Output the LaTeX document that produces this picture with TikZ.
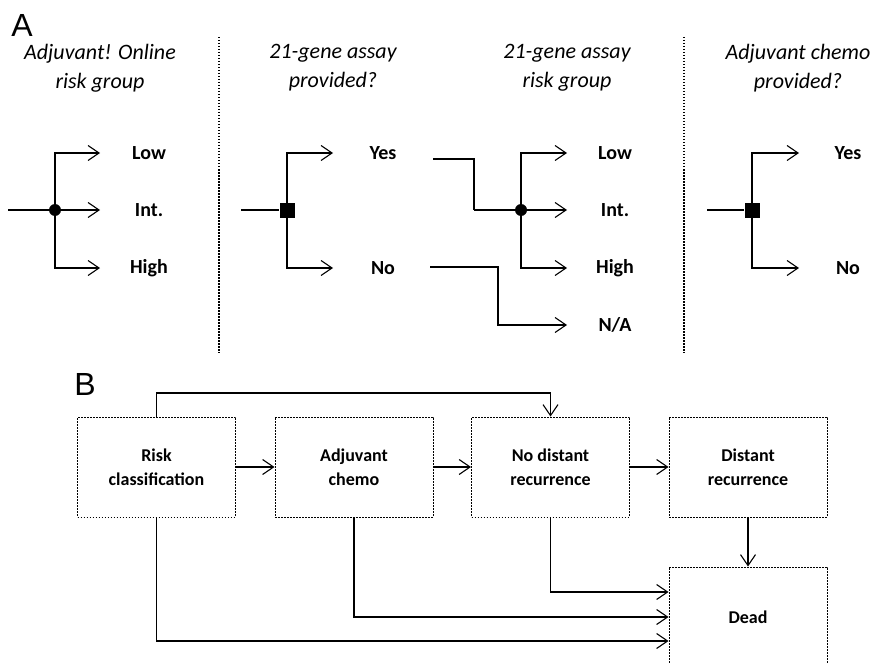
\documentclass[tikz,border=0pt]{standalone}
\usepackage{fontspec}
\setmainfont{Carlito}
\newfontfamily\panelfont{Liberation Sans}
\usetikzlibrary{arrows.meta,positioning}

\tikzset{
  lbl/.style={font=\fontsize{20}{24}\selectfont\bfseries},
  head/.style={font=\fontsize{22}{29}\selectfont\itshape, align=center},
  state/.style={draw, dash pattern=on 1.6pt off 1.4pt, line width=0.9pt,
    minimum width=158pt, minimum height=100pt, inner sep=0pt, align=center,
    font=\fontsize{18}{24}\selectfont\bfseries},
  arr/.style={-{Straight Barb[length=11pt,width=15pt]}, line width=1.1pt},
  wire/.style={line width=1.4pt},
  sep/.style={dash pattern=on 1.5pt off 1.5pt, line width=1.1pt},
  chance/.style={circle, fill, inner sep=0pt, minimum size=12pt},
  choice/.style={rectangle, fill, inner sep=0pt, minimum size=15pt},
  panel/.style={font=\panelfont\fontsize{32}{32}\selectfont}
}

\begin{document}
\begin{tikzpicture}[x=1pt,y=-1pt]
  \useasboundingbox (0,0) rectangle (872,663);

  % ---- panel A
  \node[panel] (pA) at (22,25) {A};

  \node[head] (hd1) at (100,68) {Adjuvant! Online\\risk group};
  \node[head] (hd2) at (333,68) {21-gene assay\\provided?};
  \node[head] (hd3) at (567,68) {21-gene assay\\risk group};
  \node[head] (hd4) at (798,68) {Adjuvant chemo\\provided?};

  \draw[sep] (219,37) -- (219,353);
  \draw[sep] (684,37) -- (684,353);

  % Adjuvant! Online risk group
  \coordinate (in1) at (8,210);
  \node[chance] (c1) at (55,210) {};
  \foreach \y/\n in {153/lo,210/mid,268/hi}
    \coordinate (t1\n) at (100,\y);
  \node[lbl] (low1) at (149,153) {Low};
  \node[lbl] (int1) at (149,210) {Int.};
  \node[lbl] (high1) at (149,268) {High};
  \draw[wire] (in1) -- (c1);
  \draw[arr] (c1.center) |- (t1lo);
  \draw[arr] (c1.center) -- (t1mid);
  \draw[arr] (c1.center) |- (t1hi);

  % 21-gene assay provided?
  \coordinate (in2) at (241,210);
  \node[choice] (s2) at (287,210) {};
  \foreach \y/\n in {153/yes,268/no}
    \coordinate (t2\n) at (333,\y);
  \node[lbl] (yes2) at (383,153) {Yes};
  \node[lbl] (no2) at (383,268) {No};
  \draw[wire] (in2) -- (s2);
  \draw[arr] (s2.center) |- (t2yes);
  \draw[arr] (s2.center) |- (t2no);

  % 21-gene assay risk group
  \node[chance] (c3) at (521,210) {};
  \foreach \y/\n in {153/lo,210/mid,268/hi,325/na}
    \coordinate (t3\n) at (567,\y);
  \node[lbl] (low3) at (615,153) {Low};
  \node[lbl] (int3) at (615,210) {Int.};
  \node[lbl] (high3) at (615,268) {High};
  \node[lbl] (na3) at (615,325) {N/A};
  \coordinate (yesout) at (433,159);
  \coordinate (yesbend) at (474,210);
  \coordinate (noout) at (430,267);
  \coordinate (nobend) at (498,325);
  \draw[line width=1.1pt] (yesout) -| (yesbend);
  \draw[wire] (yesbend) -- (c3);
  \draw[arr] (noout) -| (nobend) -- (t3na);
  \draw[arr] (c3.center) |- (t3lo);
  \draw[arr] (c3.center) -- (t3mid);
  \draw[arr] (c3.center) |- (t3hi);

  % Adjuvant chemo provided?
  \coordinate (in4) at (707,210);
  \node[choice] (s4) at (752,210) {};
  \foreach \y/\n in {153/yes,268/no}
    \coordinate (t4\n) at (799,\y);
  \node[lbl] (yes4) at (848,153) {Yes};
  \node[lbl] (no4) at (848,268) {No};
  \draw[wire] (in4) -- (s4);
  \draw[arr] (s4.center) |- (t4yes);
  \draw[arr] (s4.center) |- (t4no);

  % ---- panel B
  \node[panel] (pB) at (85,384) {B};

  \node[state] (risk) at (156.5,467) {Risk\\classification};
  \node[state] (chemo) at (354,467) {Adjuvant\\chemo};
  \node[state] (nodist) at (550.5,467) {No distant\\recurrence};
  \node[state] (dist) at (748,467) {Distant\\recurrence};
  \node[state] (dead) at (748,617) {Dead};

  \coordinate (over) at (350,393);

  \draw[arr] (risk) -- (chemo);
  \draw[arr] (chemo) -- (nodist);
  \draw[arr] (nodist) -- (dist);
  \draw[arr] (dist) -- (dead);
  \draw[arr] (risk.north) |- (over) -| (nodist.north);
  \draw[arr] (nodist.south) |- ([yshift=25pt]dead.west);
  \draw[arr] (chemo.south) |- (dead.west);
  \draw[arr] (risk.south) |- ([yshift=-24pt]dead.west);
\end{tikzpicture}
\end{document}
